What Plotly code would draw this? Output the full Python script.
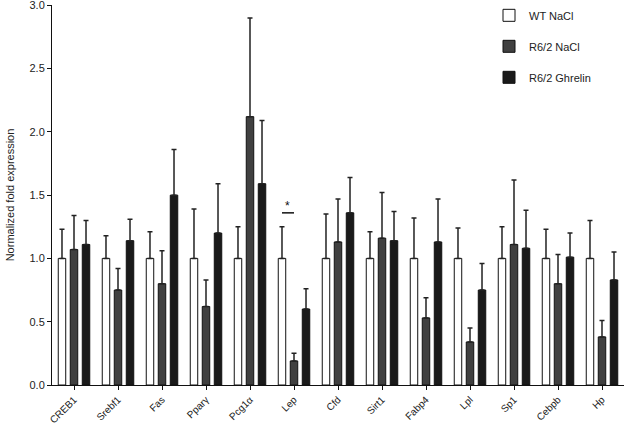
import plotly.graph_objects as go

genes = ["CREB1", "Srebf1", "Fas", "Pparγ", "Pcg1α", "Lep", "Cfd", "Sirt1",
         "Fabp4", "Lpl", "Sp1", "Cebpb", "Hp"]

wt_mean = [1.0] * 13
wt_err_top = [1.23, 1.18, 1.21, 1.39, 1.25, 1.25, 1.35, 1.21, 1.32, 1.24, 1.25, 1.23, 1.30]

r62_mean = [1.07, 0.75, 0.80, 0.62, 2.12, 0.19, 1.13, 1.16, 0.53, 0.34, 1.11, 0.80, 0.38]
r62_err_top = [1.34, 0.92, 1.06, 0.83, 2.90, 0.25, 1.47, 1.52, 0.69, 0.45, 1.62, 1.03, 0.51]

ghr_mean = [1.11, 1.14, 1.50, 1.20, 1.59, 0.60, 1.36, 1.14, 1.13, 0.75, 1.08, 1.01, 0.83]
ghr_err_top = [1.30, 1.31, 1.86, 1.59, 2.09, 0.76, 1.64, 1.37, 1.47, 0.96, 1.38, 1.20, 1.05]

y_ticks = [0, 0.5, 1.0, 1.5, 2.0, 2.5, 3.0]
y_tick_labels = ["0.0", "0.5", "1.0", "1.5", "2.0", "2.5", "3.0"]

series = [
    ("WT NaCl", wt_mean, wt_err_top, "#ffffff"),
    ("R6/2 NaCl", r62_mean, r62_err_top, "#404040"),
    ("R6/2 Ghrelin", ghr_mean, ghr_err_top, "#1a1a1a"),
]

bar_w = 0.17
step = 0.273
x = list(range(len(genes)))

fig = go.Figure()
for i, (name, mean, top, col) in enumerate(series):
    err = [t - m for t, m in zip(top, mean)]
    fig.add_trace(go.Bar(
        x=x, y=mean, name=name, width=bar_w,
        offset=-bar_w / 2 + (i - 1) * step,
        marker=dict(color=col, line=dict(color="#111111", width=1)),
        error_y=dict(type="data", symmetric=False, array=err,
                     arrayminus=[0] * len(err), color="#222222",
                     thickness=1.5, width=2.5),
        legendgroup=name,
    ))

# significance marker for Lep (WT vs R6/2 NaCl)
lep = genes.index("Lep")
sig_y = wt_err_top[lep] + 0.11
fig.add_shape(type="line", xref="x", yref="y",
              x0=lep - step, x1=lep, y0=sig_y, y1=sig_y,
              line=dict(color="#111111", width=1.5))
fig.add_annotation(x=lep - step / 2, y=sig_y, text="*", showarrow=False,
                   yanchor="bottom", yshift=-2,
                   font=dict(size=12, color="#111111"))

font = "Liberation Sans, Arial, sans-serif"
fig.update_layout(
    width=625, height=423,
    margin=dict(l=52, r=1, t=5, b=38),
    barmode="overlay",
    plot_bgcolor="white", paper_bgcolor="white",
    font=dict(family=font, size=11, color="#222222"),
    showlegend=True,
    legend=dict(x=0.764, y=1.011, xanchor="left", yanchor="top",
                font=dict(size=11, color="#222222"),
                tracegroupgap=12, bgcolor="rgba(0,0,0,0)"),
    xaxis=dict(range=[-0.5, 12.5], tickmode="array", tickvals=x, ticktext=genes,
               tickangle=-45, showline=True, linecolor="#111111", linewidth=1,
               ticks="outside", ticklen=4, tickcolor="#111111",
               showgrid=False, zeroline=False, automargin=False,
               ticklabeloverflow="allow",
               tickfont=dict(size=10, color="#222222")),
    yaxis=dict(range=[0, 3.002], tickmode="array",
               tickvals=y_ticks, ticktext=y_tick_labels,
               showline=True, linecolor="#111111", linewidth=1,
               ticks="outside", ticklen=4, tickcolor="#111111",
               showgrid=False, zeroline=False, automargin=False,
               ticklabeloverflow="allow",
               title=dict(text="Normalized fold expression", standoff=12,
                          font=dict(size=11, color="#222222")),
               tickfont=dict(size=11, color="#222222")),
)

fig.write_html("out.html", config={"displayModeBar": False},
               post_script="document.body.style.margin='0';document.body.style.overflow='hidden';")
